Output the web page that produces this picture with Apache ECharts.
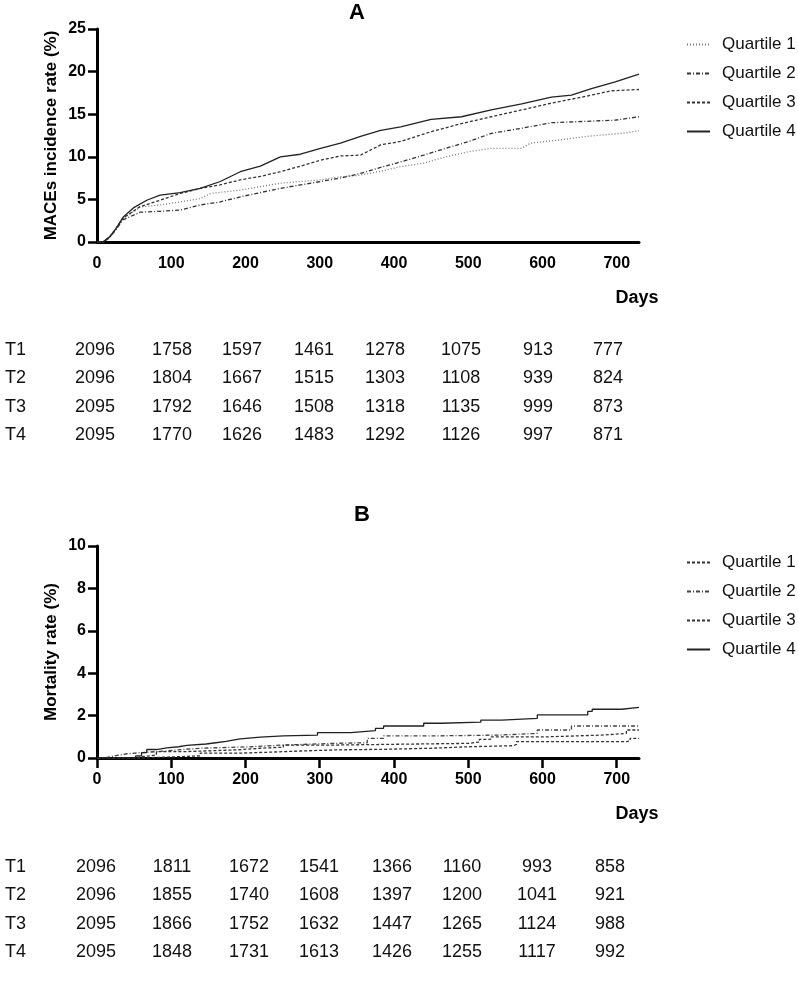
<!DOCTYPE html>
<html>
<head>
<meta charset="utf-8">
<script src="https://cdn.jsdelivr.net/npm/echarts@6/dist/echarts.min.js"></script>
<style>
  html, body { margin: 0; padding: 0; background: #fff; }
  #chart { width: 798px; height: 997px; }
</style>
</head>
<body>
<div id="chart"></div>
<script>
// ---- data ----
const dayTicks = [0, 100, 200, 300, 400, 500, 600, 700]
const quartileNames = ['Quartile 1', 'Quartile 2', 'Quartile 3', 'Quartile 4']
const rowNames = ['T1', 'T2', 'T3', 'T4']

// A: MACEs incidence rate (%) [day, value]
const maceQ1 = [[0,0],[8,0],[17,0.5],[25,1.4],[35,2.7],[58,4.1],[85,4.35],[112,4.7],[139,5.1],[153,5.7],[193,6.1],[220,6.5],[247,6.9],[274,7.1],[301,7.3],[328,7.65],[355,7.85],[382,8.3],[409,8.85],[440,9.25],[470,10.0],[501,10.6],[531,11.0],[572,11.0],[584,11.6],[625,12.0],[660,12.4],[707,12.75],[730,13.05]]
const maceQ2 = [[0,0],[8,0],[17,0.5],[25,1.4],[35,2.6],[58,3.5],[85,3.6],[112,3.75],[139,4.35],[166,4.7],[193,5.3],[220,5.8],[247,6.3],[274,6.7],[301,7.1],[328,7.5],[355,8.05],[382,8.75],[409,9.4],[440,10.2],[470,11.0],[501,11.8],[531,12.75],[572,13.35],[612,14.0],[698,14.3],[730,14.7]]
const maceQ3 = [[0,0],[8,0],[17,0.6],[25,1.5],[35,2.8],[58,4.15],[85,4.9],[112,5.7],[139,6.3],[166,6.7],[193,7.3],[220,7.7],[247,8.25],[274,8.9],[301,9.6],[328,10.1],[355,10.2],[382,11.4],[409,11.8],[450,12.95],[491,13.9],[531,14.7],[572,15.5],[612,16.3],[653,17.0],[693,17.75],[730,17.9]]
const maceQ4 = [[0,0],[8,0],[17,0.6],[25,1.5],[35,2.9],[49,4.0],[67,4.9],[85,5.5],[112,5.8],[139,6.3],[166,7.1],[193,8.25],[220,8.9],[247,10.0],[274,10.3],[301,11.0],[328,11.6],[355,12.4],[382,13.1],[409,13.5],[450,14.4],[491,14.7],[531,15.5],[572,16.2],[612,17.0],[639,17.25],[666,18.0],[698,18.8],[730,19.7]]

// B: mortality rate (%) [day, value], step curves
const mortQ1 = [[0,0],[60,0.05],[100,0.1],[139,0.23],[193,0.27],[229,0.33],[274,0.38],[319,0.41],[386,0.46],[450,0.53],[500,0.58],[561,0.64],[565,0.77],[713,0.8],[718,0.93],[730,0.93]]
const mortQ2 = [[0,0],[10,0.05],[17,0.14],[30,0.2],[40,0.25],[58,0.3],[80,0.38],[107,0.46],[139,0.53],[207,0.61],[251,0.69],[319,0.72],[364,0.93],[386,1.04],[449,1.08],[540,1.16],[593,1.32],[639,1.51],[730,1.51]]
const mortQ3 = [[0,0],[50,0.05],[58,0.14],[80,0.3],[117,0.38],[187,0.46],[220,0.51],[251,0.61],[319,0.64],[386,0.69],[500,0.75],[515,0.88],[530,1.0],[608,1.08],[680,1.16],[713,1.32],[730,1.32]]
const mortQ4 = [[0,0],[52,0.1],[60,0.25],[67,0.4],[80,0.48],[94,0.53],[110,0.6],[121,0.66],[147,0.72],[160,0.78],[174,0.85],[185,0.9],[193,0.98],[220,1.04],[251,1.08],[297,1.2],[342,1.29],[375,1.4],[386,1.51],[440,1.64],[463,1.69],[517,1.79],[545,1.87],[593,2.03],[661,2.2],[667,2.3],[707,2.39],[730,2.39]]

// numbers at risk
const riskA = [
  [2096, 1758, 1597, 1461, 1278, 1075, 913, 777],
  [2096, 1804, 1667, 1515, 1303, 1108, 939, 824],
  [2095, 1792, 1646, 1508, 1318, 1135, 999, 873],
  [2095, 1770, 1626, 1483, 1292, 1126, 997, 871]
]
const riskB = [
  [2096, 1811, 1672, 1541, 1366, 1160, 993, 858],
  [2096, 1855, 1740, 1608, 1397, 1200, 1041, 921],
  [2095, 1866, 1752, 1632, 1447, 1265, 1124, 988],
  [2095, 1848, 1731, 1613, 1426, 1255, 1117, 992]
]

// ---- layout ----
const colXA = [95, 172, 242, 314, 385, 461, 538, 608]
const colXB = [96, 172, 249, 319, 392, 462, 537, 610]
const font = 'Liberation Sans, Arial, sans-serif'

const chart = echarts.init(document.getElementById('chart'))

function axisX(gridIndex, showTick) {
  return {
    type: 'value', gridIndex: gridIndex, min: 0, max: 730, interval: 100,
    axisLine: { lineStyle: { color: '#000', width: 3 } },
    axisTick: { show: showTick, inside: false, length: 10, customValues: dayTicks, lineStyle: { color: '#000', width: 2.5 } },
    axisLabel: { customValues: dayTicks, margin: 14, color: '#000', fontWeight: 'bold', fontSize: 16, fontFamily: font },
    splitLine: { show: false }
  }
}
function axisY(gridIndex, max, interval, name) {
  return {
    type: 'value', gridIndex: gridIndex, min: 0, max: max, interval: interval,
    name: name, nameLocation: 'middle', nameGap: 37, nameMoveOverlap: false,
    nameTextStyle: { color: '#000', fontWeight: 'bold', fontSize: 17, fontFamily: font },
    axisLine: { show: true, lineStyle: { color: '#000', width: 3 } },
    axisTick: { show: true, inside: false, length: 9, lineStyle: { color: '#000', width: 2.5 } },
    axisLabel: { margin: 11, color: '#000', fontWeight: 'bold', fontSize: 16, fontFamily: font },
    splitLine: { show: false }
  }
}

const stylesA = [
  { type: [1, 2], color: '#777' },
  { type: [4, 2, 1, 2], color: '#333' },
  { type: [3, 2], color: '#333' },
  { type: 'solid', color: '#222' }
]
const stylesB = [
  { type: [3, 2], color: '#333' },
  { type: [4, 2, 1, 2], color: '#444' },
  { type: [3, 2], color: '#333' },
  { type: 'solid', color: '#222' }
]

const series = []
;[maceQ1, maceQ2, maceQ3, maceQ4].forEach((d, i) => {
  series.push({
    name: quartileNames[i], type: 'line', xAxisIndex: 0, yAxisIndex: 0,
    data: d, symbol: 'none', color: stylesA[i].color,
    lineStyle: { width: 1.3, type: stylesA[i].type, color: stylesA[i].color }
  })
})
;[mortQ1, mortQ2, mortQ3, mortQ4].forEach((d, i) => {
  series.push({
    name: 'B ' + quartileNames[i], type: 'line', xAxisIndex: 1, yAxisIndex: 1,
    data: d, symbol: 'none', step: 'end', color: stylesB[i].color,
    lineStyle: { width: 1.3, type: stylesB[i].type, color: stylesB[i].color }
  })
})

function legendAt(top, names, strip) {
  return {
    orient: 'vertical', left: 681, top: top, itemWidth: 23, itemHeight: 14, itemGap: 12,
    data: names, selectedMode: false,
    itemStyle: { opacity: 0 },
    formatter: strip ? (n) => n.replace(/^B /, '') : '{name}',
    textStyle: { color: '#111', fontSize: 17, fontFamily: font, padding: [0, 0, 0, 7] }
  }
}

const graphics = []
function text(x, y, str, opt) {
  graphics.push({
    type: 'text', x: x, y: y,
    style: Object.assign({ text: str, fill: '#111', fontFamily: font, fontSize: 18, align: 'center', verticalAlign: 'middle' }, opt || {})
  })
}
text(357, 13, 'A', { fontWeight: 'bold', fontSize: 22, fill: '#000' })
text(362, 515, 'B', { fontWeight: 'bold', fontSize: 22, fill: '#000' })
text(637, 298, 'Days', { fontWeight: 'bold', fill: '#000' })
text(637, 814, 'Days', { fontWeight: 'bold', fill: '#000' })

function table(rows, cols, y0) {
  rows.forEach((row, r) => {
    const y = y0 + r * 28.3
    text(5, y, rowNames[r], { align: 'left' })
    row.forEach((v, c) => text(cols[c], y, String(v)))
  })
}
table(riskA, colXA, 350)
table(riskB, colXB, 867)

chart.setOption({
  animation: false,
  backgroundColor: '#fff',
  grid: [
    { left: 97, top: 29, width: 542, height: 213 },
    { left: 97, top: 546, width: 542, height: 212 }
  ],
  xAxis: [axisX(0, false), axisX(1, true)],
  yAxis: [
    axisY(0, 25, 5, 'MACEs incidence rate (%)'),
    axisY(1, 10, 2, 'Mortality rate (%)')
  ],
  legend: [
    legendAt(31, quartileNames, false),
    legendAt(549, quartileNames.map(n => 'B ' + n), true)
  ],
  series: series,
  graphic: graphics
})
</script>
</body>
</html>
